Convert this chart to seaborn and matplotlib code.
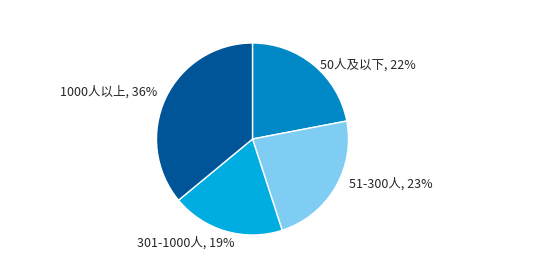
import matplotlib
matplotlib.use("Agg")
import matplotlib.pyplot as plt
import seaborn as sns

sns.set_theme(style="white")
plt.rcParams['font.family'] = ['Noto Sans CJK SC', 'DejaVu Sans']

categories = ["50人及以下", "51-300人", "301-1000人", "1000人以上"]
values = [22, 23, 19, 36]
colors = ["#0089c6", "#7fcdf3", "#00ade0", "#005598"]

fig = plt.figure(figsize=(5.48, 2.65), dpi=100)
ax = fig.add_axes([0, 0, 1, 1])

ax.pie(values, colors=colors, startangle=90, counterclock=False,
       center=(252.5, 126), radius=96, frame=True,
       wedgeprops=dict(edgecolor='white', linewidth=1))
ax.set_xlim(0, 548)
ax.set_ylim(0, 265)
ax.set_aspect('equal')
ax.axis('off')

label_pos = [(320, 200, 'left'), (349, 81, 'left'), (137, 22, 'left'), (157, 173, 'right')]
for cat, v, (x, y, ha) in zip(categories, values, label_pos):
    ax.text(x, y, f"{cat}, {v}%", ha=ha, va='center', fontsize=9, color='#262626')

fig.savefig("out.png", dpi=100)
